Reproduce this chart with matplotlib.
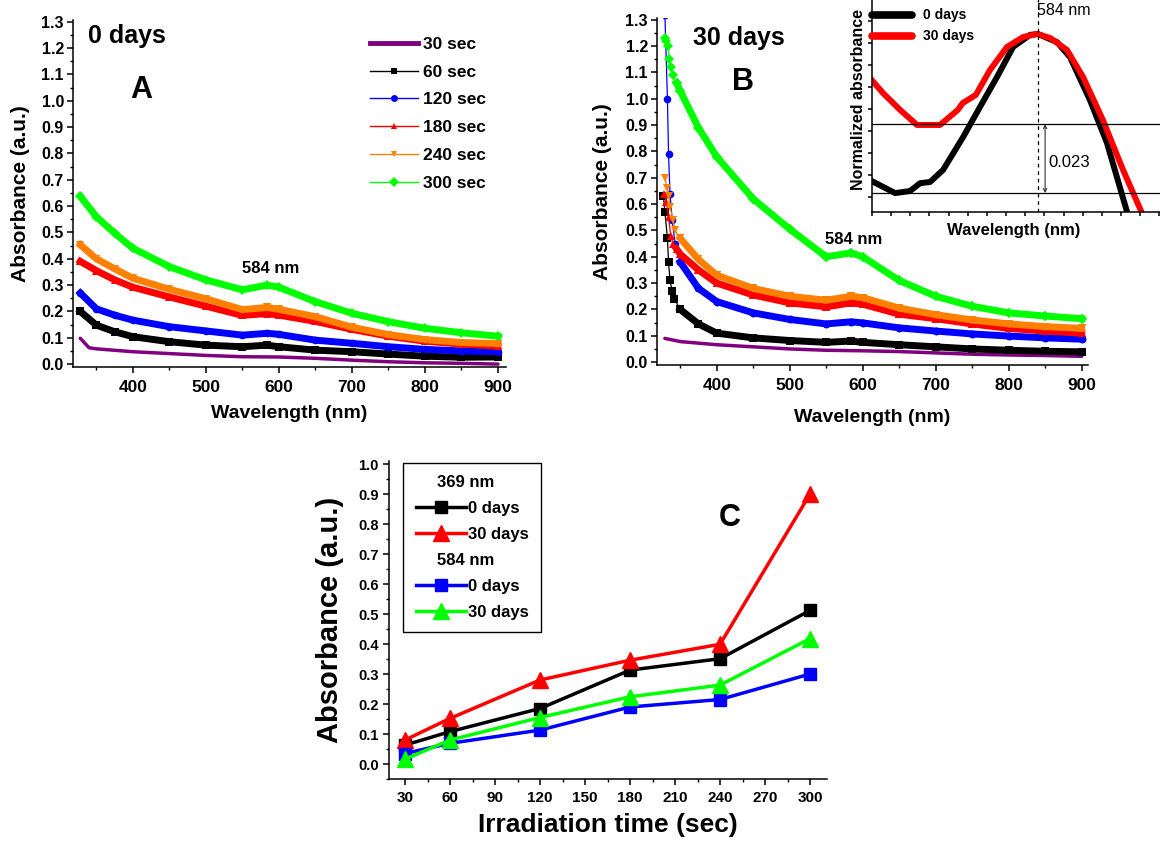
import matplotlib
matplotlib.use('Agg')
import matplotlib.pyplot as plt
from matplotlib.lines import Line2D
from matplotlib.ticker import MultipleLocator, FormatStrFormatter
import numpy as np

plt.rcParams.update({
    'font.family': ['Liberation Sans', 'DejaVu Sans'],
    'font.weight': 'bold',
    'axes.labelweight': 'bold',
    'axes.linewidth': 1.1,
    'xtick.direction': 'out',
    'ytick.direction': 'out',
    'xtick.major.width': 1.1,
    'ytick.major.width': 1.1,
    'xtick.minor.width': 1.0,
    'ytick.minor.width': 1.0,
    'xtick.major.size': 4,
    'ytick.major.size': 4,
    'xtick.minor.size': 2.5,
    'ytick.minor.size': 2.5,
})

W, H = 1160, 841

# ── 数据 ──
labels = ['30 sec', '60 sec', '120 sec', '180 sec', '240 sec', '300 sec']
colors = ['#800080', '#000000', '#0000FF', '#FF0000', '#FF8000', '#00FF00']
markers = [None, 's', 'o', '^', 'v', 'D']

# 图A: 0 days
a_nm_30 = [328, 340, 350, 400, 450, 500, 550, 600, 650, 700, 750, 800, 850, 900]
a_30 = [0.098, 0.062, 0.058, 0.047, 0.040, 0.033, 0.028, 0.027, 0.022, 0.015, 0.009, 0.005, 0.003, 0.000]
a_nm = [328, 350, 375, 400, 450, 500, 550, 584, 600, 650, 700, 750, 800, 850, 900]
a_60 = [0.200, 0.148, 0.123, 0.104, 0.085, 0.072, 0.066, 0.072, 0.066, 0.053, 0.047, 0.038, 0.030, 0.026, 0.027]
a_120 = [0.270, 0.210, 0.186, 0.167, 0.142, 0.126, 0.110, 0.117, 0.113, 0.091, 0.079, 0.066, 0.056, 0.050, 0.047]
a_180 = [0.390, 0.355, 0.320, 0.292, 0.255, 0.220, 0.185, 0.192, 0.186, 0.162, 0.132, 0.106, 0.087, 0.076, 0.068]
a_240 = [0.453, 0.400, 0.362, 0.326, 0.284, 0.248, 0.207, 0.215, 0.208, 0.180, 0.140, 0.112, 0.093, 0.082, 0.078]
a_300 = [0.637, 0.560, 0.497, 0.440, 0.370, 0.320, 0.282, 0.300, 0.292, 0.237, 0.193, 0.161, 0.136, 0.119, 0.106]

# 图B: 30 days
b_nm_30 = [329, 350, 400, 450, 500, 550, 600, 650, 700, 750, 800, 850, 900]
b_30 = [0.090, 0.078, 0.066, 0.058, 0.050, 0.045, 0.043, 0.040, 0.035, 0.030, 0.027, 0.025, 0.022]
b_nm_60 = [327, 329, 332.5, 334, 336, 339, 342, 350, 375, 400, 450, 500, 550, 584, 600, 650, 700, 750, 800, 850, 900]
b_60 = [0.63, 0.57, 0.47, 0.38, 0.31, 0.27, 0.24, 0.20, 0.145, 0.110, 0.092, 0.082, 0.075, 0.080, 0.075, 0.066, 0.058, 0.050, 0.045, 0.041, 0.039]
b_nm_120 = [329, 332.5, 334, 336, 339, 343, 350, 375, 400, 450, 500, 550, 584, 600, 650, 700, 750, 800, 850, 900]
b_120 = [1.32, 1.00, 0.79, 0.64, 0.54, 0.45, 0.38, 0.28, 0.23, 0.187, 0.162, 0.145, 0.153, 0.149, 0.130, 0.118, 0.107, 0.099, 0.092, 0.087]
b_nm_180 = [328, 331, 334, 337, 340, 345, 350, 375, 400, 450, 500, 550, 584, 600, 650, 700, 750, 800, 850, 900]
b_180 = [0.64, 0.61, 0.55, 0.48, 0.45, 0.43, 0.41, 0.35, 0.30, 0.255, 0.225, 0.210, 0.225, 0.220, 0.182, 0.165, 0.145, 0.128, 0.118, 0.110]
b_nm_240 = [329, 332, 334, 336, 340, 343, 350, 375, 400, 450, 500, 550, 584, 600, 650, 700, 750, 800, 850, 900]
b_240 = [0.70, 0.66, 0.63, 0.59, 0.54, 0.50, 0.47, 0.39, 0.33, 0.28, 0.250, 0.235, 0.250, 0.245, 0.205, 0.180, 0.160, 0.145, 0.135, 0.128]
b_nm_300 = [329, 331, 333, 335, 337, 340, 345, 350, 375, 400, 450, 500, 550, 584, 600, 650, 700, 750, 800, 850, 900]
b_300 = [1.23, 1.22, 1.20, 1.15, 1.12, 1.09, 1.06, 1.03, 0.89, 0.78, 0.62, 0.505, 0.400, 0.415, 0.400, 0.310, 0.250, 0.212, 0.187, 0.175, 0.165]

# 插图: 归一化吸光度
ins_nm_0 = [496.3, 509.4, 517.2, 522.4, 527.6, 534.4, 544.9, 553.7, 562.6, 571.0, 579.8, 584.0, 593.9, 600.7, 611.1, 620.0, 630.5]
ins_0 = [0.9513, 0.9470, 0.9477, 0.9503, 0.9507, 0.9547, 0.9657, 0.9757, 0.9857, 0.9957, 0.9997, 1.0000, 0.9973, 0.9923, 0.9780, 0.9637, 0.9407]
ins_nm_30 = [496.3, 503.1, 512.0, 520.8, 532.8, 542.1, 544.7, 551.5, 558.9, 567.8, 576.2, 583.5, 590.3, 599.1, 607.5, 617.9, 628.4, 638.3]
ins_30 = [0.9853, 0.9803, 0.9747, 0.9697, 0.9697, 0.9747, 0.9770, 0.9797, 0.9880, 0.9957, 0.9990, 1.0000, 0.9987, 0.9947, 0.9857, 0.9713, 0.9547, 0.9403]
ins_min_0, ins_min_30 = 0.947, 0.970

# 图C
c_time = [30, 60, 120, 180, 240, 300]
c_369_0d = [0.063, 0.108, 0.185, 0.313, 0.351, 0.512]
c_369_30d = [0.080, 0.152, 0.280, 0.346, 0.399, 0.900]
c_584_0d = [0.035, 0.069, 0.113, 0.190, 0.215, 0.300]
c_584_30d = [0.016, 0.080, 0.155, 0.224, 0.263, 0.418]


def rect(l, t, r, b):
    return [l / W, 1 - b / H, (r - l) / W, (b - t) / H]


def style_spec(ax):
    ax.spines['top'].set_visible(False)
    ax.spines['right'].set_visible(False)
    ax.xaxis.set_major_locator(MultipleLocator(100))
    ax.xaxis.set_minor_locator(MultipleLocator(50))
    ax.yaxis.set_major_locator(MultipleLocator(0.1))
    ax.yaxis.set_minor_locator(MultipleLocator(0.05))
    ax.yaxis.set_major_formatter(FormatStrFormatter('%.1f'))
    ax.tick_params(axis='x', labelsize=12.5, pad=5.5)
    ax.tick_params(axis='y', labelsize=11.5, pad=2.5)
    ax.set_ylim(-0.011, 1.307)


fig = plt.figure(figsize=(W / 100, H / 100), dpi=100)

# ── 图A ──
axA = fig.add_axes(rect(73, 20, 506, 367))
a_series = [(a_nm_30, a_30), (a_nm, a_60), (a_nm, a_120), (a_nm, a_180), (a_nm, a_240), (a_nm, a_300)]
for (x, y), c, m in zip(a_series, colors, markers):
    if m is None:
        axA.plot(x, y, color=c, lw=2.5, solid_capstyle='round')
    else:
        axA.plot(x, y, color=c, lw=5, marker=m, ms=5.5, mew=0, solid_joinstyle='round')
style_spec(axA)
axA.set_xlim(318, 911)
axA.set_xlabel('Wavelength (nm)', fontsize=14)
axA.set_ylabel('Absorbance (a.u.)', fontsize=15)
axA.xaxis.set_label_coords(0.5, -0.11)
axA.yaxis.set_label_coords(-0.1, 0.5)
axA.text(0.035, 0.934, '0 days', transform=axA.transAxes, fontsize=18, va='baseline')
axA.text(0.157, 0.775, 'A', transform=axA.transAxes, fontsize=22, ha='center', va='baseline')
axA.text(588, 0.346, '584 nm', fontsize=12, ha='center', va='baseline')

handles = []
for lab, c, m in zip(labels, colors, markers):
    if m is None:
        handles.append(Line2D([], [], color=c, lw=3.5, label=lab))
    else:
        handles.append(Line2D([], [], color=c, lw=1.0, marker=m, ms=5, mew=0, label=lab))
axA.legend(handles=handles, loc='upper left', bbox_to_anchor=(0.686, 0.952), frameon=False,
           fontsize=12.5, handlelength=2.76, handletextpad=0.3, labelspacing=0.73,
           borderpad=0, borderaxespad=0)

# ── 图B ──
axB = fig.add_axes(rect(657, 18, 1088, 365))
b_series = [(b_nm_30, b_30), (b_nm_60, b_60), (b_nm_120, b_120), (b_nm_180, b_180),
            (b_nm_240, b_240), (b_nm_300, b_300)]
for (x, y), c, m in zip(b_series, colors, markers):
    x = np.array(x)
    y = np.array(y)
    if m is None:
        axB.plot(x, y, color=c, lw=2.5, solid_capstyle='round')
        continue
    axB.plot(x, y, color=c, lw=0.9, marker=m, ms=5.5, mew=0)
    dense = x >= 345
    axB.plot(x[dense], y[dense], color=c, lw=5, marker=m, ms=5.5, mew=0, solid_joinstyle='round')
style_spec(axB)
axB.set_xlim(318.2, 908.6)
axB.set_xlabel('Wavelength (nm)', fontsize=14)
axB.set_ylabel('Absorbance (a.u.)', fontsize=15)
axB.xaxis.set_label_coords(0.5, -0.128)
axB.yaxis.set_label_coords(-0.104, 0.5)
axB.text(0.0835, 0.922, '30 days', transform=axB.transAxes, fontsize=18, va='baseline')
axB.text(0.2, 0.7925, 'B', transform=axB.transAxes, fontsize=22, ha='center', va='baseline')
axB.text(588, 0.45, '584 nm', fontsize=12, ha='center', va='baseline')

# ── 插图 ──
axI = fig.add_axes(rect(872, -5, 1165, 212))
axI.plot(ins_nm_0, ins_0, color='black', lw=4.3, solid_capstyle='round', solid_joinstyle='round')
axI.plot(ins_nm_30, ins_30, color='#FF0000', lw=4.3, solid_capstyle='round', solid_joinstyle='round')
axI.axhline(ins_min_30, color='black', lw=0.9)
axI.axhline(ins_min_0, color='black', lw=0.9)
axI.axvline(584, color='black', lw=0.9, ls=(0, (3, 3)))
axI.annotate('', xy=(587.7, ins_min_0), xytext=(587.7, ins_min_30),
             arrowprops=dict(arrowstyle='<->', lw=0.8, color='#333333', shrinkA=0, shrinkB=0,
                             mutation_scale=6))
axI.text(589.2, 0.9573, '0.023', fontsize=12, fontweight='normal', va='center')
axI.text(583.5, 1.0063, '584 nm', fontsize=11.5, fontweight='normal', va='baseline')
axI.set_xlim(497.3, 650.3)
axI.set_ylim(0.9407, 1.013)
axI.set_xticks(np.arange(497.3, 650, 10))
axI.set_yticks(np.linspace(0.9457, 1.0043, 9))
axI.tick_params(labelbottom=False, labelleft=False, length=3)
axI.spines['top'].set_visible(False)
axI.spines['right'].set_visible(False)
axI.set_xlabel('Wavelength (nm)', fontsize=12)
axI.set_ylabel('Normalized absorbance', fontsize=11.5)
axI.xaxis.set_label_coords(0.485, -0.05)
axI.yaxis.set_label_coords(-0.02, 0.52)
ins_handles = [Line2D([], [], color='black', lw=5.5, solid_capstyle='round', label='0 days'),
               Line2D([], [], color='#FF0000', lw=5.5, solid_capstyle='round', label='30 days')]
axI.legend(handles=ins_handles, loc='upper left', bbox_to_anchor=(0.0, 0.938), frameon=False,
           fontsize=10, handlelength=2.9, handletextpad=0.8, labelspacing=0.5,
           borderpad=0, borderaxespad=0)

# ── 图C ──
axC = fig.add_axes(rect(389, 461, 827, 779))
axC.plot(c_time, c_369_0d, color='black', lw=2.5, marker='s', ms=9)
axC.plot(c_time, c_369_30d, color='#FF0000', lw=2.5, marker='^', ms=11)
axC.plot(c_time, c_584_0d, color='#0000FF', lw=2.5, marker='s', ms=9)
axC.plot(c_time, c_584_30d, color='#00FF00', lw=2.5, marker='^', ms=11)
axC.spines['top'].set_visible(False)
axC.spines['right'].set_visible(False)
axC.set_xlim(19.3, 311.3)
axC.set_ylim(-0.05, 1.01)
axC.xaxis.set_major_locator(MultipleLocator(30))
axC.xaxis.set_minor_locator(MultipleLocator(15))
axC.yaxis.set_major_locator(MultipleLocator(0.1))
axC.yaxis.set_minor_locator(MultipleLocator(0.05))
axC.yaxis.set_major_formatter(FormatStrFormatter('%.1f'))
axC.tick_params(axis='x', labelsize=11, pad=5)
axC.tick_params(axis='y', labelsize=10.5)
axC.set_xlabel('Irradiation time (sec)', fontsize=19)
axC.set_ylabel('Absorbance (a.u.)', fontsize=21)
axC.xaxis.set_label_coords(0.5, -0.107)
axC.yaxis.set_label_coords(-0.103, 0.5)
axC.text(0.779, 0.796, 'C', transform=axC.transAxes, fontsize=22, ha='center', va='baseline')

blank = Line2D([], [], linestyle='none')
c_handles = [blank,
             Line2D([], [], color='black', lw=2.5, marker='s', ms=9),
             Line2D([], [], color='#FF0000', lw=2.5, marker='^', ms=11),
             blank,
             Line2D([], [], color='#0000FF', lw=2.5, marker='s', ms=9),
             Line2D([], [], color='#00FF00', lw=2.5, marker='^', ms=11)]
c_labels = ['369 nm', '0 days', '30 days', '584 nm', '0 days', '30 days']
leg = axC.legend(c_handles, c_labels, loc='upper left', bbox_to_anchor=(0.032, 0.994),
                 fontsize=12, handlelength=3.05, handletextpad=0.1, labelspacing=0.65,
                 borderpad=0.75, borderaxespad=0, fancybox=False, framealpha=1,
                 edgecolor='black')
leg.get_frame().set_linewidth(1.0)
for i in (0, 3):
    leg.get_texts()[i].set_x(-31)

fig.savefig('out.png', dpi=100)
